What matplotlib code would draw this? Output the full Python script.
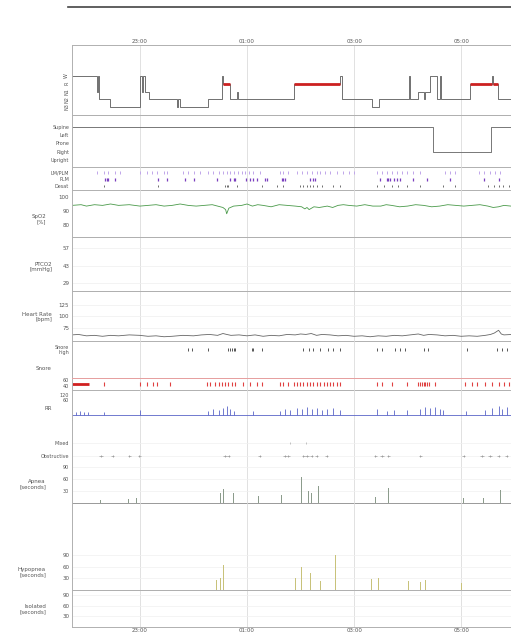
import matplotlib.pyplot as plt
from matplotlib.lines import Line2D
from matplotlib.ticker import FuncFormatter

# time axis: clock hours, values above 24 belong to the next morning
t_start, t_end = 21.73, 30.10
hour_ticks = [23, 25, 27, 29]

# hypnogram (0=W, 1=R, 2=N1, 3=N2, 4=N3)
stage_names = ["W", "R", "N1", "N2", "N3"]
hyp_t = [21.73, 22.19, 22.21, 22.23, 22.44, 23.00, 23.03, 23.06, 23.09, 23.16,
         23.69, 23.71, 23.74, 24.28, 24.53, 24.56, 24.68, 24.81, 24.83, 25.87,
         26.74, 26.78, 27.33, 27.46, 28.02, 28.04, 28.20, 28.30, 28.33, 28.42,
         28.55, 28.60, 28.62, 29.17, 29.57, 29.59, 29.68]
hyp_s = [0, 2, 0, 3, 4, 0, 2, 0, 2, 3,
         4, 3, 4, 3, 0, 1, 3, 2, 3, 1,
         0, 3, 4, 3, 0, 3, 2, 3, 2, 0,
         3, 0, 3, 1, 0, 1, 3]

# body position
pos_names = ["Supine", "Left", "Prone", "Right", "Upright"]
pos_t = [21.73, 28.48, 29.56]
pos_v = [0, 3, 0]

# event rows
limb_t = [22.19, 22.32, 22.41, 22.53, 22.63, 23.00, 23.13, 23.22, 23.31, 23.44, 23.50,
          23.81, 23.90, 24.00, 24.12, 24.28, 24.37, 24.47, 24.56, 24.62, 24.68, 24.75,
          24.84, 24.90, 24.96, 25.03, 25.12, 25.24, 25.62, 25.68, 25.77, 25.93, 26.02,
          26.12, 26.21, 26.30, 26.37, 26.46, 26.55, 26.68, 26.80, 26.90, 26.99, 27.43,
          27.52, 27.61, 27.71, 27.80, 27.89, 27.99, 28.11, 28.24, 28.70, 28.80, 28.89,
          29.33, 29.42, 29.54, 29.64, 29.73]
plm_t = [22.35, 22.38, 22.41, 22.53, 23.34, 23.50, 23.84, 24.00, 24.43, 24.68, 24.75,
         24.78, 24.99, 25.06, 25.12, 25.18, 25.34, 25.37, 25.65, 25.68, 25.71, 26.18,
         26.24, 26.27, 27.49, 27.61, 27.64, 27.67, 27.74, 27.80, 27.86, 28.11, 28.36,
         28.80, 29.42, 29.70]
desat_t = [22.32, 23.34, 24.59, 24.62, 24.65, 24.81, 25.28, 25.56, 25.68, 25.99, 26.05,
           26.12, 26.18, 26.24, 26.30, 26.40, 26.61, 26.74, 27.43, 27.55, 27.71, 27.83,
           27.99, 28.24, 28.67, 28.89, 29.51, 29.61, 29.70, 29.79, 29.89]

# SpO2 [%]
spo2_t = [21.73, 21.9, 22.0, 22.15, 22.3, 22.45, 22.6, 22.8, 23.0, 23.15, 23.3, 23.45,
          23.6, 23.75, 23.9, 24.05, 24.2, 24.35, 24.45, 24.55, 24.60, 24.62, 24.66,
          24.75, 24.9, 25.0, 25.1, 25.2, 25.3, 25.45, 25.6, 25.75, 25.9, 26.02, 26.08,
          26.12, 26.16, 26.25, 26.35, 26.5, 26.6, 26.7, 26.8, 26.9, 27.05, 27.2, 27.35,
          27.5, 27.6, 27.7, 27.85, 28.0, 28.15, 28.3, 28.45, 28.6, 28.75, 28.9, 29.05,
          29.2, 29.35, 29.5, 29.6, 29.7, 29.8, 29.93, 30.1]
spo2_v = [94, 94.5, 93.5, 94.5, 94, 95, 94, 94.5, 93.5, 94, 94.5, 93.5,
          94, 95, 94, 93.5, 94, 94.5, 93.5, 92.5, 91, 88, 92,
          93.5, 94, 95, 93.5, 94.5, 94, 93, 94.5, 94, 93.5, 93, 91.5,
          92.5, 91, 93, 92.5, 93.5, 92.5, 94, 94.5, 94, 93.5, 94.5, 93.5,
          93.5, 94.5, 94, 93, 93.5, 94.5, 94, 93, 93.5, 94.5, 94, 93.5,
          94, 94.5, 93.5, 92.5, 93, 94, 93.5, 94]

# heart rate [bpm]
hr_t = [21.73, 21.85, 22.0, 22.15, 22.3, 22.45, 22.6, 22.8, 23.0, 23.15, 23.3, 23.45,
        23.6, 23.8, 24.0, 24.15, 24.3, 24.45, 24.55, 24.62, 24.7, 24.85, 25.0, 25.15,
        25.3, 25.45, 25.6, 25.75, 25.9, 26.0, 26.1, 26.2, 26.3, 26.4, 26.55, 26.7,
        26.85, 27.0, 27.15, 27.3, 27.45, 27.6, 27.75, 27.9, 28.05, 28.2, 28.3, 28.4,
        28.55, 28.7, 28.85, 29.0, 29.15, 29.3, 29.45, 29.55, 29.62, 29.70, 29.75,
        29.80, 29.95, 30.1]
hr_v = [60, 61, 58, 59, 57, 59, 58, 60, 59, 57, 58, 56,
        57, 59, 58, 60, 61, 59, 63, 61, 59, 60, 58, 60,
        57, 59, 58, 61, 60, 62, 61, 63, 59, 61, 60, 58,
        59, 57, 58, 56, 58, 57, 59, 58, 60, 62, 59, 61,
        60, 58, 59, 57, 58, 57, 59, 61, 64, 70, 62,
        60, 61, 59]

# snore events
snore_high_t = [23.90, 23.97, 24.28, 24.65, 24.68, 24.72, 24.75, 24.78, 25.09, 25.12,
                25.28, 26.05, 26.15, 26.24, 26.37, 26.52, 26.61, 26.74, 27.43, 27.52,
                27.77, 27.86, 27.95, 28.30, 28.39, 29.11, 29.67, 29.76, 29.85]
snore_t = [22.32, 23.00, 23.13, 23.25, 23.31, 23.56, 24.25, 24.31, 24.40, 24.47, 24.53,
           24.59, 24.65, 24.72, 24.78, 24.93, 25.06, 25.18, 25.28, 25.62, 25.68, 25.77,
           25.87, 25.93, 25.99, 26.05, 26.12, 26.18, 26.24, 26.30, 26.37, 26.43, 26.49,
           26.55, 26.61, 26.68, 26.74, 27.43, 27.52, 27.71, 27.99, 28.20, 28.24, 28.27,
           28.30, 28.33, 28.36, 28.40, 28.52, 29.08, 29.20, 29.30, 29.45, 29.58, 29.70,
           29.80, 29.90]
snore_block = (21.73, 22.04)

# RR trace spikes (height above baseline)
rr_t = [21.80, 21.88, 21.95, 22.02, 22.32, 23.00, 24.28, 24.37, 24.47, 24.56, 24.62,
        24.68, 24.75, 25.12, 25.62, 25.71, 25.80, 25.93, 26.02, 26.12, 26.21, 26.30,
        26.40, 26.49, 26.61, 26.74, 27.43, 27.61, 27.74, 27.99, 28.24, 28.33, 28.42,
        28.52, 28.61, 28.67, 29.10, 29.45, 29.58, 29.70, 29.76, 29.85, 29.93]
rr_h = [3, 4, 3, 3, 3, 5, 4, 6, 5, 7, 9, 6, 4, 4, 4, 6, 5, 7, 6, 8, 6, 7,
        5, 6, 7, 5, 6, 4, 5, 5, 6, 8, 7, 8, 6, 5, 4, 5, 7, 9, 6, 8, 7]

# apnea events
obst_t = [22.27, 22.49, 22.80, 22.99, 24.59, 24.66, 25.24, 25.71, 25.77, 26.05, 26.12,
          26.21, 26.30, 26.49, 27.40, 27.52, 27.64, 28.24, 29.05, 29.39, 29.54, 29.70,
          29.85]
mixed_t = [25.80, 26.10]
apnea_t = [22.26, 22.79, 22.94, 24.31, 24.50, 24.56, 24.75, 24.87, 25.21, 25.37, 25.65,
           25.99, 26.02, 26.08, 26.15, 26.21, 26.27, 26.33, 26.55, 27.40, 27.64, 27.86,
           28.21, 29.05, 29.42, 29.54, 29.73]
apnea_s = [8, 10, 12, 15, 25, 35, 25, 20, 18, 15, 20, 35, 65, 40, 30, 25, 30, 42, 15,
           15, 37, 12, 15, 12, 12, 15, 32]

# hypopnea events
hypo_t = [23.28, 24.43, 24.50, 24.56, 24.68, 25.52, 25.71, 25.80, 25.90, 26.02, 26.08,
          26.18, 26.27, 26.37, 26.65, 26.68, 27.33, 27.46, 27.86, 28.02, 28.14, 28.24,
          28.33, 29.01, 29.54]
hypo_s = [20, 25, 30, 64, 22, 25, 20, 28, 30, 58, 35, 45, 30, 22, 90, 30, 28, 30, 20,
          22, 22, 20, 25, 18, 34]

W, H = 511, 635
PX_LEFT, PX_RIGHT = 72, 520
GRID = "#dcdcdc"
SPINE = "#b0b0b0"
FS = 4


def panel(top, bottom, ylim):
    ax = fig.add_axes([PX_LEFT / W, 1 - bottom / H, (PX_RIGHT - PX_LEFT) / W, (bottom - top) / H])
    ax.set_xlim(t_start, t_end)
    ax.set_ylim(*ylim)
    ax.set_xticks(hour_ticks)
    ax.tick_params(length=0, labelsize=FS, pad=2, colors="#555")
    ax.tick_params(axis="x", labelbottom=False)
    for s in ax.spines.values():
        s.set_color(SPINE)
        s.set_linewidth(0.7)
    ax.grid(axis="x", color=GRID, lw=0.6)
    ax.set_axisbelow(True)
    ax.set_facecolor("none")
    return ax


def side_label(text, y_px, x_px=52):
    fig.text(x_px / W, 1 - y_px / H, text, ha="right", va="center",
             fontsize=FS, color="#555", linespacing=1.0)


fig = plt.figure(figsize=(W / 100, H / 100), dpi=100)
fig.add_artist(Line2D([68 / W, 1], [1 - 7 / H] * 2, color="#444", lw=1.2))
clock = FuncFormatter(lambda v, p: "%02d:00" % (int(round(v)) % 24))

# hypnogram
ax = panel(45, 115, (5.03, -4))
ax.step(hyp_t + [t_end], hyp_s + [hyp_s[-1]], where="post", color="#707070", lw=0.7)
for i, s in enumerate(hyp_s):
    if s == 1:
        t1 = hyp_t[i + 1] if i + 1 < len(hyp_t) else t_end
        ax.hlines(1, hyp_t[i], t1, color="#cc2020", lw=2.0)
ax.set_yticks(range(5))
ax.set_yticklabels(stage_names, rotation=90, va="center", fontsize=3.5)
ax.tick_params(axis="x", labeltop=True, pad=1)
ax.xaxis.set_major_formatter(clock)

# body position
ax = panel(115, 167, (4.9, -1.5))
ax.step(pos_t + [t_end], pos_v + [pos_v[-1]], where="post", color="#777", lw=0.7)
ax.set_yticks(range(5))
ax.set_yticklabels(pos_names, fontsize=3.5)

# limb / PLM / desat
ax = panel(167, 190, (0, 23))
ax.vlines(limb_t, 16, 19, color="#c0a6ea", lw=0.7)
ax.vlines(plm_t, 9.5, 12.5, color="#7a3fbf", lw=0.9)
ax.vlines(desat_t, 3, 5.5, color="#555", lw=0.6)
ax.set_yticks([17.5, 11, 4])
ax.set_yticklabels(["LM/PLM", "PLM", "Desat"], fontsize=3.5)
ax.spines["top"].set_visible(False)

# SpO2
ax = panel(190, 237, (71.4, 105))
ax.plot(spo2_t, spo2_v, color="#4a9a4a", lw=0.6)
ax.set_yticks([100, 90, 80])
ax.spines["top"].set_visible(False)
side_label("SpO2\n[%]", 219, 46)

# PTCO2
ax = panel(237, 291, (22.6, 65.8))
ax.set_yticks([57, 43, 29])
ax.grid(axis="y", color="#efefef", lw=0.5)
side_label("PTCO2\n[mmHg]", 267)

# heart rate
ax = panel(291, 341, (46.8, 155))
ax.plot(hr_t, hr_v, color="#666", lw=0.6)
ax.set_yticks([125, 100, 75])
ax.grid(axis="y", color="#efefef", lw=0.5)
side_label("Heart Rate\n[bpm]", 317)

# snore
ax = panel(341, 378, (0, 1))
ax.vlines(snore_high_t, 0.72, 0.8, color="#555", lw=0.7)
ax.set_yticks([0.76])
ax.set_yticklabels(["Snore\nhigh"], fontsize=3.5, linespacing=1.0)
ax.spines["top"].set_visible(False)
side_label("Snore", 368)

ax = panel(378, 390, (0, 1))
ax.hlines(0.5, *snore_block, color="#d02020", lw=2.0)
ax.vlines(snore_t, 0.3, 0.7, color="#e04040", lw=0.8)
ax.spines["top"].set_color("#e8a0a0")
ax.set_yticks([0.8, 0.35])
ax.set_yticklabels(["60", "40"], fontsize=3.5)

# RR
ax = panel(390, 420, (0, 30))
ax.axhline(5, color="#5a64c8", lw=0.6)
ax.vlines(rr_t, 5, [5 + h for h in rr_h], color="#5a64c8", lw=0.6)
ax.set_yticks([25, 20])
ax.set_yticklabels(["120", "60"], fontsize=3.5)
ax.spines["top"].set_visible(False)
ax.spines["bottom"].set_visible(False)
side_label("RR", 408)

# apnea
ax = panel(420, 503, (0, 207.5))
ax.vlines(obst_t, 114, 121, color="#888", lw=0.5)
ax.hlines([117.5] * len(obst_t), [t - 0.03 for t in obst_t], [t + 0.03 for t in obst_t],
          color="#999", lw=0.5)
ax.vlines(mixed_t, 147, 153, color="#aaa", lw=0.5)
ax.bar(apnea_t, apnea_s, width=0.012, color="#8c9c8c", lw=0)
ax.set_yticks([150, 117.5, 90, 60, 30])
ax.set_yticklabels(["Mixed", "Obstructive", "90", "60", "30"], fontsize=3.5)
ax.grid(axis="y", color="#f0f0f0", lw=0.5)
ax.spines["top"].set_visible(False)
ax.spines["bottom"].set_color("#999")
side_label("Apnea\n[seconds]", 484, 46)

# hypopnea
ax = panel(503, 590, (0, 224))
ax.bar(hypo_t, hypo_s, width=0.012, color="#c8c27a", lw=0)
ax.set_yticks([90, 60, 30])
ax.grid(axis="y", color="#f0f0f0", lw=0.5)
ax.spines["top"].set_visible(False)
side_label("Hypopnea\n[seconds]", 572, 46)

# isolated desaturation
ax = panel(590, 627, (0, 104))
ax.set_yticks([90, 60, 30])
ax.grid(axis="y", color="#f0f0f0", lw=0.5)
ax.tick_params(axis="x", labelbottom=True, pad=1)
ax.xaxis.set_major_formatter(clock)
side_label("Isolated\n[seconds]", 609, 46)

fig.savefig("out.png", dpi=100)
